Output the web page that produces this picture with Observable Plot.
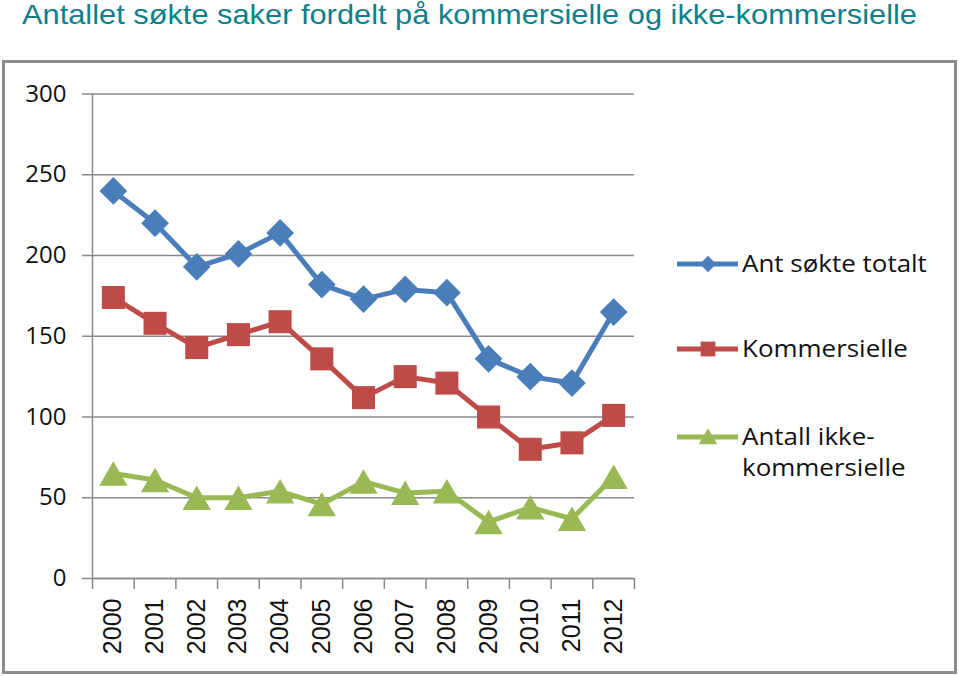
<!DOCTYPE html>
<html>
<head>
<meta charset="utf-8">
<script src="https://cdn.jsdelivr.net/npm/d3@7"></script>
<script src="https://cdn.jsdelivr.net/npm/@observablehq/plot@0.6"></script>
<style>
  html, body { margin: 0; padding: 0; background: #fff; }
  body { width: 959px; height: 676px; overflow: hidden; position: relative; }
  #title { position: absolute; left: 22px; top: 1px; font-family: "Liberation Sans", Arial, sans-serif;
           font-size: 28px; line-height: 28px; color: #0f7f8b; white-space: nowrap; transform-origin: 0 0; }
  #chart { position: absolute; left: 0; top: 0; }
  #frame { position: absolute; left: 2px; top: 60px; width: 955px; height: 614px; box-sizing: border-box;
           border: 3px solid #8c8c8c; pointer-events: none; }
  #legend { position: absolute; left: 0; top: 0; pointer-events: none; }
</style>
</head>
<body>
<div id="title">Antallet søkte saker fordelt på kommersielle og ikke-kommersielle</div>
<div id="chart"></div>
<div id="frame"></div>
<svg id="legend" width="959" height="676"></svg>
<script>
// ---- data ----
const years = [2000, 2001, 2002, 2003, 2004, 2005, 2006, 2007, 2008, 2009, 2010, 2011, 2012];
const totalt = [240, 220, 193, 201, 214, 182, 173, 179, 177, 136, 125, 121, 165];
const kommersielle = [174, 158, 143, 151, 159, 136, 112, 125, 121, 100, 80, 84, 101];
const ikkeKommersielle = [65, 61, 50, 50, 54, 46, 60, 53, 54, 35, 44, 37, 63];
const seriesNames = ["Ant søkte totalt", "Kommersielle", "Antall ikke-kommersielle"];
const yTicks = [0, 50, 100, 150, 200, 250, 300];

const colors = ["#4a7ebb", "#be4b48", "#98b954"];
const symbols = ["diamond2", "square", "triangle"];

const seriesValues = [totalt, kommersielle, ikkeKommersielle];
const series = seriesNames.map((name, k) => years.map((year, i) => ({year, value: seriesValues[k][i], name})));

const boundaries = years.map(y => y - 0.5).concat([years[years.length - 1] + 0.5]);
const grey = "#8a8a8a";

// stretch title to the reference's width
const titleEl = document.getElementById("title");
const tw = titleEl.getBoundingClientRect().width;
titleEl.style.transform = `scaleX(${895 / tw})`;

const plot = Plot.plot({
  width: 959,
  height: 676,
  marginTop: 93.5,
  marginBottom: 98,
  marginLeft: 92,
  marginRight: 325,
  style: {background: "transparent", color: "#111"},
  x: {type: "linear", domain: [boundaries[0], boundaries[boundaries.length - 1]]},
  y: {domain: [0, 300]},
  marks: [
    Plot.gridY(yTicks, {stroke: grey, strokeOpacity: 1, strokeWidth: 1.5}),
    Plot.axisY(yTicks, {label: null, tickSize: 10, tickPadding: 16, stroke: grey, strokeWidth: 1.5,
      fontSize: 24, fontFamily: "Open Sans", tickFormat: d => String(d)}),
    Plot.axisX(boundaries, {label: null, tickSize: 11, tickFormat: () => "", stroke: grey, strokeWidth: 1.5}),
    Plot.axisX(years, {label: null, tickSize: 0, tickPadding: 20, tickRotate: -90,
      fontSize: 25, fontFamily: "Liberation Sans", tickFormat: d => String(d)}),
    Plot.ruleX([boundaries[0]], {stroke: grey, strokeWidth: 1.5}),
    Plot.ruleY([0], {stroke: grey, strokeWidth: 1.5}),
    ...series.map((s, k) => Plot.line(s, {x: "year", y: "value", stroke: colors[k], strokeWidth: 5})),
    Plot.dot(series[0], {x: "year", y: "value", symbol: symbols[0], fill: colors[0], r: 12.5}),
    Plot.dot(series[1], {x: "year", y: "value", symbol: symbols[1], fill: colors[1], r: 13}),
    Plot.dot(series[2], {x: "year", y: "value", symbol: symbols[2], fill: colors[2], r: 10.5, dy: 4})
  ]
});
document.getElementById("chart").appendChild(plot);

// ---- legend ----
const leg = d3.select("#legend");
const legendRows = [
  {lines: ["Ant søkte totalt"], y: 264},
  {lines: ["Kommersielle"], y: 349},
  {lines: ["Antall ikke-", "kommersielle"], y: 437}
];
const legSizes = [170, 220, 150];
const legSym = [d3.symbolDiamond2, d3.symbolSquare, d3.symbolTriangle];
const texts = [];
legendRows.forEach((row, k) => {
  leg.append("line").attr("x1", 677).attr("x2", 738).attr("y1", row.y).attr("y2", row.y)
    .attr("stroke", colors[k]).attr("stroke-width", 5);
  leg.append("path").attr("d", d3.symbol(legSym[k], legSizes[k])())
    .attr("transform", `translate(708,${row.y + (k === 2 ? 2 : 0)})`).attr("fill", colors[k]);
  row.lines.forEach((t, j) => {
    texts.push(leg.append("text").attr("x", 0).attr("y", 0)
      .attr("data-y", row.y + 8 + j * 31)
      .attr("font-family", "Open Sans").attr("font-size", 23).attr("fill", "#111").text(t));
  });
});
// horizontal stretch so the first entry spans the reference's width
const sx = 185 / texts[0].node().getComputedTextLength();
texts.forEach(t => t.attr("transform", `translate(742,${t.attr("data-y")}) scale(${sx},1)`));
</script>
</body>
</html>
